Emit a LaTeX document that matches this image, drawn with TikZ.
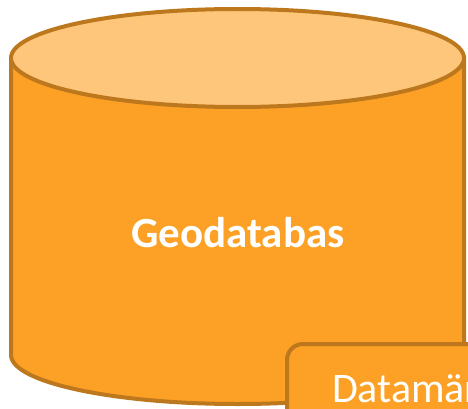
\documentclass[tikz,border=0pt]{standalone}
\usepackage{fontspec}
\setmainfont{Carlito}
\definecolor{geobody}{HTML}{FCA125}
\definecolor{geotop}{HTML}{FDC67B}
\definecolor{geoline}{HTML}{BD771C}

\begin{document}
\begin{tikzpicture}[x=1pt, y=1pt, line width=4pt]
  \useasboundingbox (0,0) rectangle (468,408);
  \clip (0,0) rectangle (468,408);

  % draw cylinder body
  \draw[geoline, fill=geobody] (11,350) -- (11,53)
    arc[start angle=180, end angle=360, x radius=226.5, y radius=49]
    -- (464,350) -- cycle;
  % draw top of the cylinder
  \draw[geoline, fill=geotop] (237.5,350) ellipse[x radius=226.5, y radius=49];
  \node[text=white, font=\bfseries\fontsize{43}{43}\selectfont] (geodb) at (238,175) {Geodatabas};

  % draw box for the data mart (cut off by the border)
  \node[draw=geoline, fill=geobody, rounded corners=16pt, anchor=north west,
        minimum width=220pt, minimum height=110pt] (mart) at (285,66) {};
  \node[text=white, anchor=base west, inner sep=0pt, font=\fontsize{42}{42}\selectfont] (martlabel) at (330,6) {Datamär};

\end{tikzpicture}
\end{document}
